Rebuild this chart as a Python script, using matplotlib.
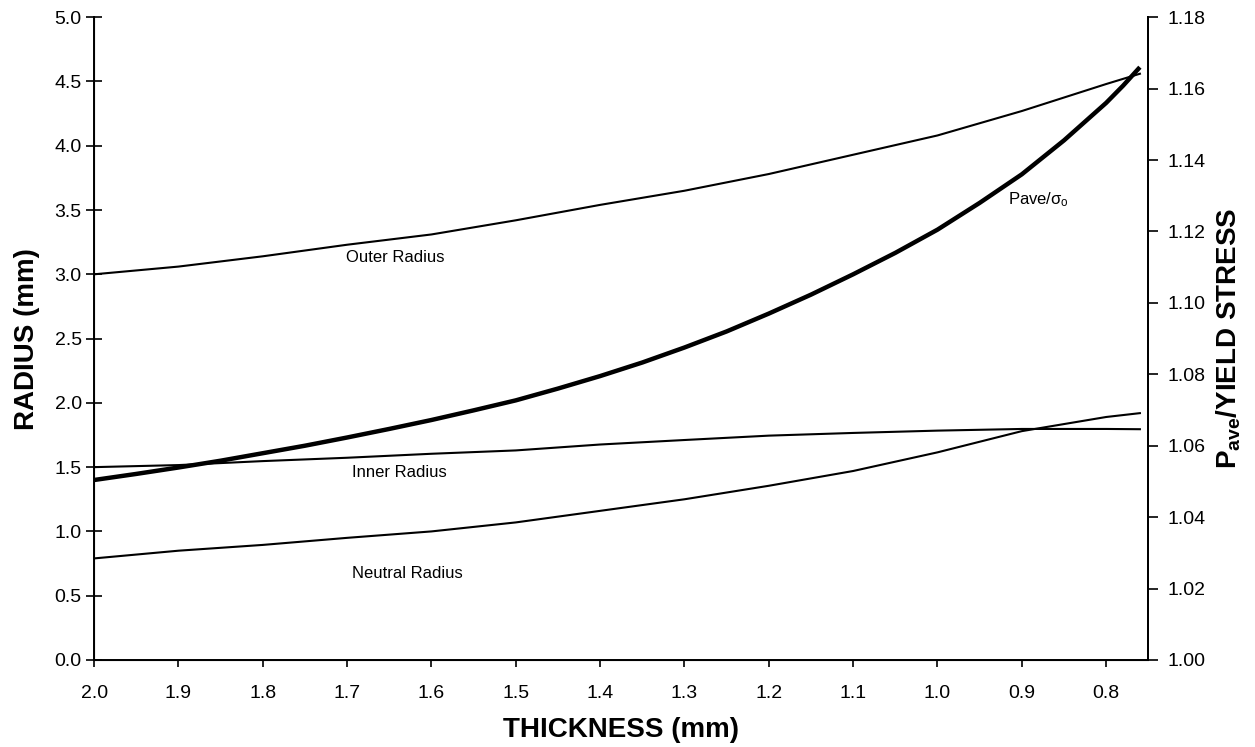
import matplotlib
matplotlib.use("Agg")
import matplotlib.pyplot as plt
from matplotlib.ticker import FormatStrFormatter

plt.rcParams["font.family"] = ["Liberation Sans", "DejaVu Sans"]
plt.rcParams["mathtext.fontset"] = "custom"
plt.rcParams["mathtext.rm"] = "Liberation Sans"
plt.rcParams["mathtext.it"] = "Liberation Sans"
plt.rcParams["mathtext.bf"] = "Liberation Sans:bold"

# thickness (mm), plotted from thick to thin
thickness = [2.0, 1.9, 1.8, 1.7, 1.6, 1.5, 1.4, 1.3, 1.2, 1.1, 1.0, 0.9, 0.8, 0.76]

outer_radius = [3.00, 3.06, 3.14, 3.23, 3.31, 3.42, 3.54, 3.65, 3.78, 3.93, 4.08, 4.27, 4.48, 4.56]
inner_radius = [1.50, 1.516, 1.547, 1.573, 1.604, 1.63, 1.676, 1.711, 1.745, 1.766, 1.784, 1.797, 1.797, 1.795]
neutral_radius = [0.79, 0.85, 0.895, 0.95, 1.00, 1.07, 1.16, 1.25, 1.355, 1.47, 1.615, 1.78, 1.89, 1.92]

# average pressure over yield stress (right axis), finer thickness steps
thickness_p = [2.00, 1.95, 1.90, 1.85, 1.80, 1.75, 1.70, 1.65, 1.60, 1.55, 1.50, 1.45, 1.40,
               1.35, 1.30, 1.25, 1.20, 1.15, 1.10, 1.05, 1.00, 0.95, 0.90, 0.85, 0.80, 0.78, 0.76]
pave_ratio = [1.0504, 1.0521, 1.0539, 1.0558, 1.0579, 1.0600, 1.0623, 1.0647, 1.0672, 1.0699,
              1.0727, 1.0760, 1.0795, 1.0833, 1.0875, 1.0920, 1.0970, 1.1023, 1.1080, 1.1140,
              1.1205, 1.1280, 1.1360, 1.1455, 1.1560, 1.1608, 1.1660]

x_ticks = [2.0, 1.9, 1.8, 1.7, 1.6, 1.5, 1.4, 1.3, 1.2, 1.1, 1.0, 0.9, 0.8]
r_ticks = [0.0, 0.5, 1.0, 1.5, 2.0, 2.5, 3.0, 3.5, 4.0, 4.5, 5.0]
p_ticks = [1.00, 1.02, 1.04, 1.06, 1.08, 1.10, 1.12, 1.14, 1.16, 1.18]

fig = plt.figure(figsize=(12.55, 7.47), dpi=100)
ax = fig.add_axes([0.075, 0.1165, 0.840, 0.8605])

lw = 1.5
ax.plot(thickness, outer_radius, color="black", lw=lw)
ax.plot(thickness, inner_radius, color="black", lw=lw)
ax.plot(thickness, neutral_radius, color="black", lw=lw)

ax.set_xlim(2.0, 0.75)
ax.set_ylim(0, 5.0)
ax.set_xticks(x_ticks)
ax.set_yticks(r_ticks)
ax.xaxis.set_major_formatter(FormatStrFormatter("%.1f"))
ax.yaxis.set_major_formatter(FormatStrFormatter("%.1f"))
ax.tick_params(axis="y", direction="inout", length=12, width=1.2, labelsize=14, pad=3)
ax.tick_params(axis="x", direction="out", length=5, width=1.2, labelsize=14, pad=13)
ax.spines["top"].set_visible(False)
for s in ["left", "bottom", "right"]:
    ax.spines[s].set_linewidth(1.4)

ax.set_xlabel("THICKNESS (mm)", fontsize=20, fontweight="bold", labelpad=11)
ax.set_ylabel("RADIUS (mm)", fontsize=20, fontweight="bold", labelpad=10)

ax2 = ax.twinx()
ax2.plot(thickness_p, pave_ratio, color="black", lw=3.2, solid_capstyle="butt")
ax2.set_ylim(1.00, 1.18)
ax2.set_yticks(p_ticks)
ax2.yaxis.set_major_formatter(FormatStrFormatter("%.2f"))
ax2.tick_params(axis="y", direction="out", length=7, width=1.2, labelsize=14, pad=7)
ax2.spines["top"].set_visible(False)
ax2.spines["right"].set_linewidth(1.4)
ax2.set_ylabel(r"$\mathbf{P_{ave}}$/YIELD STRESS", fontsize=20, fontweight="bold", labelpad=6)

# curve labels
ax.text(1.643, 3.13, "Outer Radius", fontsize=12, ha="center", va="center")
ax.text(1.638, 1.46, "Inner Radius", fontsize=12, ha="center", va="center")
ax.text(1.629, 0.67, "Neutral Radius", fontsize=12, ha="center", va="center")
ax.text(0.880, 3.58, r"Pave/$\sigma_o$", fontsize=12, ha="center", va="center")

fig.savefig("out.png", dpi=100)
